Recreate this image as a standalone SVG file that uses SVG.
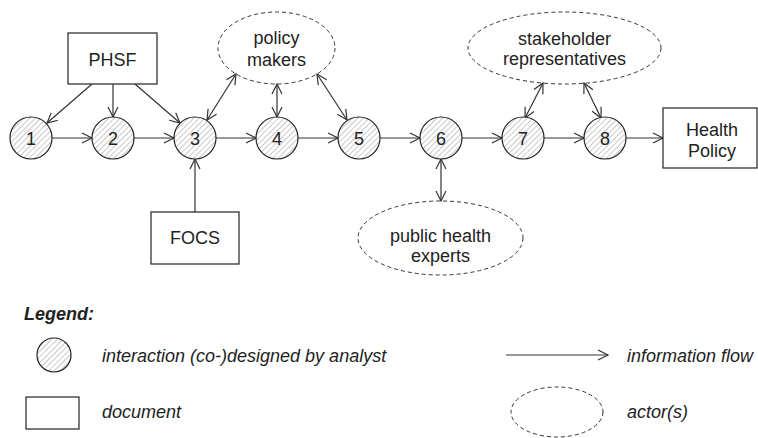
<svg xmlns="http://www.w3.org/2000/svg" width="758" height="438" viewBox="0 0 758 438">
  <style>
    text { font-family: "Liberation Sans", Arial, sans-serif; font-size: 18px; fill: #222; }
    .c { text-anchor: middle; }
    .it { font-style: italic; }
    .step { fill: url(#hatch); stroke: #222; stroke-width: 1.2; }
    .doc { fill: #fff; stroke: #222; stroke-width: 1.2; }
    .actor { fill: none; stroke: #333; stroke-width: 1; stroke-dasharray: 4 3; }
    .flow { fill: none; stroke: #333; stroke-width: 1.2; marker-end: url(#arr); }
    .both { marker-start: url(#arr); }
  </style>
  <defs>
    <pattern id="hatch" patternUnits="userSpaceOnUse" width="4" height="4" patternTransform="rotate(45)">
      <rect width="4" height="4" fill="#fff"/>
      <line x1="0" y1="0" x2="0" y2="4" stroke="#888" stroke-width="0.9"/>
    </pattern>
    <marker id="arr" markerUnits="userSpaceOnUse" markerWidth="12" markerHeight="12" refX="10" refY="5" orient="auto-start-reverse" overflow="visible">
      <path d="M0,0 L10,5 L0,10" fill="none" stroke="#333" stroke-width="1.2"/>
    </marker>
  </defs>

  <!-- connectors -->
  <g id="connectors">
    <line class="flow" x1="52" y1="138" x2="92" y2="138"/>
    <line class="flow" x1="134" y1="138" x2="174" y2="138"/>
    <line class="flow" x1="216" y1="138" x2="256" y2="138"/>
    <line class="flow" x1="298" y1="138" x2="338" y2="138"/>
    <line class="flow" x1="380" y1="138" x2="420" y2="138"/>
    <line class="flow" x1="462" y1="138" x2="502" y2="138"/>
    <line class="flow" x1="544" y1="138" x2="584" y2="138"/>
    <line class="flow" x1="626" y1="138" x2="663" y2="138"/>
    <line class="flow" x1="92" y1="84" x2="47" y2="123"/>
    <line class="flow" x1="113" y1="84" x2="113" y2="117"/>
    <line class="flow" x1="135" y1="84" x2="180" y2="123"/>
    <line class="flow" x1="195" y1="212" x2="195" y2="159"/>
    <line class="flow both" x1="236" y1="74" x2="207" y2="120"/>
    <line class="flow both" x1="277" y1="84" x2="277" y2="117"/>
    <line class="flow both" x1="317" y1="74" x2="347" y2="120"/>
    <line class="flow both" x1="441" y1="159" x2="441" y2="201"/>
    <line class="flow both" x1="543" y1="83" x2="525" y2="118"/>
    <line class="flow both" x1="584" y1="83" x2="601" y2="118"/>
  </g>

  <!-- documents -->
  <g id="phsf"><rect class="doc" x="68" y="33" width="89" height="51"/><text class="c" x="112.5" y="66">PHSF</text></g>
  <g id="focs"><rect class="doc" x="151" y="212" width="88" height="52"/><text class="c" x="195" y="244">FOCS</text></g>
  <g id="health-policy"><rect class="doc" x="663" y="108" width="94" height="60"/><text class="c" x="712" y="136">Health</text><text class="c" x="712" y="157">Policy</text></g>

  <!-- actors -->
  <g id="policy-makers"><ellipse class="actor" cx="276.5" cy="48" rx="58.5" ry="36"/><text class="c" x="276.5" y="44">policy</text><text class="c" x="276.5" y="66">makers</text></g>
  <g id="stakeholders"><ellipse class="actor" cx="564.5" cy="48" rx="96.5" ry="36"/><text class="c" x="564.5" y="45">stakeholder</text><text class="c" x="564.5" y="65">representatives</text></g>
  <g id="experts"><ellipse class="actor" cx="440.5" cy="238" rx="82.5" ry="37"/><text class="c" x="440.5" y="242">public health</text><text class="c" x="440.5" y="262">experts</text></g>

  <!-- interaction steps -->
  <g id="step1"><circle class="step" cx="31" cy="138" r="21"/><text class="c" x="31" y="145">1</text></g>
  <g id="step2"><circle class="step" cx="113" cy="138" r="21"/><text class="c" x="113" y="145">2</text></g>
  <g id="step3"><circle class="step" cx="195" cy="138" r="21"/><text class="c" x="195" y="145">3</text></g>
  <g id="step4"><circle class="step" cx="277" cy="138" r="21"/><text class="c" x="277" y="145">4</text></g>
  <g id="step5"><circle class="step" cx="359" cy="138" r="21"/><text class="c" x="359" y="145">5</text></g>
  <g id="step6"><circle class="step" cx="441" cy="138" r="21"/><text class="c" x="441" y="145">6</text></g>
  <g id="step7"><circle class="step" cx="523" cy="138" r="21"/><text class="c" x="523" y="145">7</text></g>
  <g id="step8"><circle class="step" cx="605" cy="138" r="21"/><text class="c" x="605" y="145">8</text></g>

  <!-- legend -->
  <g id="legend">
    <text x="24" y="320" font-weight="bold" class="it">Legend:</text>
    <circle class="step" cx="54" cy="355" r="17"/>
    <text class="it" x="102" y="362">interaction (co-)designed by analyst</text>
    <rect class="doc" x="26" y="397" width="53" height="32"/>
    <text class="it" x="102" y="418">document</text>
    <line class="flow" x1="506" y1="355" x2="608" y2="355"/>
    <text class="it" x="627" y="362">information flow</text>
    <ellipse class="actor" cx="557" cy="412" rx="46" ry="25"/>
    <text class="it" x="627" y="418">actor(s)</text>
  </g>
</svg>
